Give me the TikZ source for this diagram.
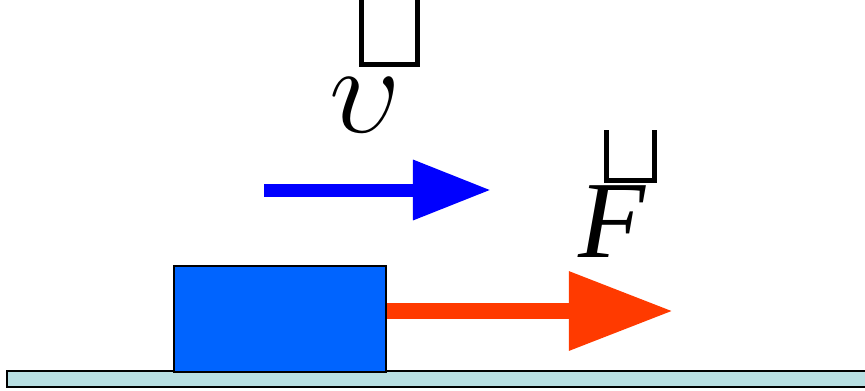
\documentclass[tikz,border=0pt]{standalone}
\usepackage{fix-cm}
\usepackage{fontspec}
\setmainfont{Liberation Serif}
\usetikzlibrary{arrows.meta}

\definecolor{groundcol}{HTML}{B8DFE2}
\definecolor{blockcol}{HTML}{0064FF}
\definecolor{forcecol}{HTML}{FF3A00}
\definecolor{velcol}{HTML}{0000FF}

\tikzset{
  ground/.style={draw,line width=0.05cm,fill=groundcol,minimum width=21.575cm,minimum height=0.4cm,inner sep=0pt},
  block/.style={draw,line width=0.045cm,fill=blockcol,minimum width=5.3cm,minimum height=2.65cm,inner sep=0pt},
  forcearrow/.style={draw=forcecol,fill=forcecol,line width=0.4cm,-{Triangle[length=2.6cm,width=1.875cm]}},
  velarrow/.style={draw=velcol,fill=velcol,line width=0.325cm,-{Triangle[length=1.95cm,width=1.425cm]}},
  vlabel/.style={anchor=base,inner sep=0pt,font=\fontsize{78}{84}\selectfont\itshape},
  glyphbox/.style={line width=0.125cm}
}

\begin{document}
\begin{tikzpicture}[x=0.025cm,y=-0.025cm]
\useasboundingbox (0,0) rectangle (865,390);

\node [ground] at (438.5,379) (floor) {};
\node [block] at (280,319) (box) {};

\coordinate (fhead) at (673,311);
\coordinate (vtail) at (264,190);
\coordinate (vhead) at (491,190);

\draw [forcearrow] (box.east |- fhead) -- (fhead);
\draw [velarrow] (vtail) -- (vhead);

\node [vlabel,font=\fontsize{90}{96}\selectfont] at (365,132) (v) {$\upsilon$};
\node [vlabel] at (612,257) (f) {F};

\draw [glyphbox] (361.5,-5) rectangle (417.5,64.5);
\draw [glyphbox] (606.5,130) -- (606.5,180.5) -- (654.5,180.5) -- (654.5,130);

\end{tikzpicture}
\end{document}
